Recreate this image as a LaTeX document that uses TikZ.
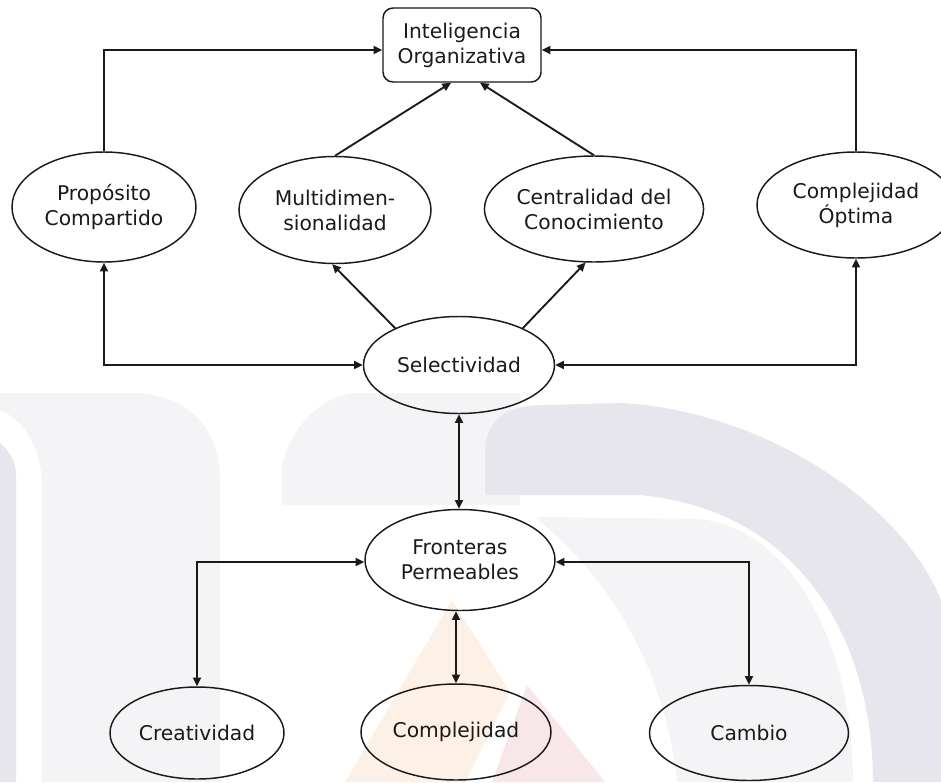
\documentclass[tikz,border=0pt]{standalone}
\usepackage{fontspec}
\setmainfont{DejaVu Sans}
\usetikzlibrary{shapes.geometric,arrows.meta,calc}

\definecolor{ink}{RGB}{26,26,26}
\definecolor{wmdark}{RGB}{230,230,236}
\definecolor{wmlight}{RGB}{244,244,247}
\definecolor{wmorange}{RGB}{253,241,231}
\definecolor{wmpink}{RGB}{247,231,233}

\tikzset{
  labelfont/.style={font=\fontsize{15.2pt}{18.75pt}\selectfont, text=ink, align=center},
  oval/.style={ellipse, draw=ink, line width=1.1pt, inner sep=0pt, labelfont},
  goalbox/.style={rectangle, rounded corners=7.5pt, draw=ink, line width=1.1pt, inner sep=0pt, labelfont},
  arr/.style={draw=ink, line width=1.4pt, -{Triangle[length=6.5pt,width=6pt]}},
  darr/.style={draw=ink, line width=1.4pt, {Triangle[length=6.5pt,width=6pt]}-{Triangle[length=6.5pt,width=6pt]}}
}

\begin{document}
\begin{tikzpicture}[x=0.75pt,y=-0.75pt]
\useasboundingbox (0,0) rectangle (941,782);
\clip (0,0) rectangle (941,782);
\fill[white] (0,0) rectangle (941,782);

% background emblem
\fill[wmlight] (0,393) -- (130,393) .. controls (190,393) and (220,430) .. (220,480)
  -- (220,782) -- (42,782) -- (42,485) .. controls (42,450) and (25,420) .. (0,410) -- cycle;
\fill[wmdark] (0,443) .. controls (8,450) and (16,460) .. (16,475) -- (16,782) -- (0,782) -- cycle;
\fill[wmlight] (282,505) -- (282,465) .. controls (290,430) and (320,393) .. (360,393)
  -- (520,393) -- (520,505) -- cycle;
\fill[wmdark] (485,495) -- (485,455) .. controls (485,420) and (505,405) .. (545,405)
  -- (620,403) .. controls (760,410) and (900,500) .. (941,600) -- (941,782)
  -- (873,782) .. controls (873,640) and (800,510) .. (640,495) -- cycle;
\fill[wmlight] (545,517) -- (700,519) .. controls (790,530) and (853,640) .. (853,782)
  -- (677,782) .. controls (668,690) and (625,590) .. (535,517) -- cycle;
\fill[wmorange] (452,600) -- (510,692) -- (465,782) -- (345,782) -- cycle;
\fill[wmpink] (527,685) -- (605,782) -- (492,782) -- cycle;

% concepts
\node[goalbox, minimum width=118.5pt, minimum height=55.5pt] (io) at (462,45) {Inteligencia\\Organizativa};
\node[oval, minimum width=138pt, minimum height=82.5pt] (prop) at (104,207) {Propósito\\Compartido};
\node[oval, minimum width=144pt, minimum height=80.25pt] (multi) at (335,210) {Multidimen-\\sionalidad};
\node[oval, minimum width=150pt, minimum height=79.5pt] (cent) at (594,209) {Centralidad del\\Conocimiento};
\node[oval, minimum width=148.5pt, minimum height=79.5pt] (copt) at (856,205) {Complejidad\\Óptima};
\node[oval, minimum width=143.25pt, minimum height=72.75pt] (sel) at (459,365) {Selectividad};
\node[oval, minimum width=142.5pt, minimum height=75.75pt] (fron) at (460,560) {Fronteras\\Permeables};
\node[oval, minimum width=130.5pt, minimum height=69pt] (crea) at (197,733) {Creatividad};
\node[oval, minimum width=142.5pt, minimum height=72pt] (comp) at (456,732) {Complejidad};
\node[oval, minimum width=149.25pt, minimum height=71.25pt] (camb) at (749,733) {Cambio};

% links to the top box
\draw[arr] (prop.north) |- ($(io.west)+(0,5)$);
\draw[arr] (copt.north) |- ($(io.east)+(0,5)$);
\draw[arr] (multi.north) -- ($(io.south)+(-11,0)$);
\draw[arr] (cent.north) -- ($(io.south)+(18,0)$);

% links from Selectividad
\draw[arr] (sel.150) -- (multi.267);
\draw[arr] (sel.30) -- (cent.261);
\draw[darr] (prop.south) |- (sel.west);
\draw[darr] (copt.south) |- (sel.east);
\draw[darr] (sel.south) -- (sel.south |- fron.north);

% links from Fronteras Permeables
\draw[darr] ($(fron.west)+(0,2)$) -| (crea.north);
\draw[darr] ($(fron.east)+(0,2)$) -| (camb.north);
\draw[darr] (comp.north |- fron.south) -- (comp.north);
\end{tikzpicture}
\end{document}
